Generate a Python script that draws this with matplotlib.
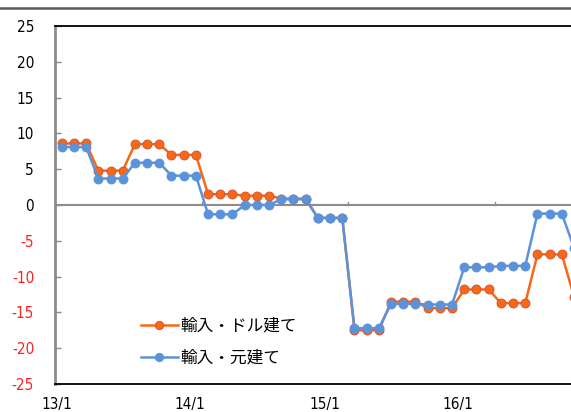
import matplotlib
matplotlib.use("Agg")
import matplotlib.pyplot as plt
from matplotlib.lines import Line2D
from matplotlib import font_manager

# Monthly year-on-year change (%), Jan 2013 onward
months = list(range(43))
usd_import = [8.6, 8.6, 8.6, 4.8, 4.8, 4.8, 8.5, 8.5, 8.5, 7.0, 7.0, 7.0,
              1.5, 1.5, 1.5, 1.3, 1.3, 1.3, 0.9, 0.9, 0.9, -1.8, -1.8, -1.8,
              -17.5, -17.5, -17.5, -13.5, -13.5, -13.5, -14.4, -14.4, -14.4,
              -11.8, -11.8, -11.8, -13.7, -13.7, -13.7, -6.9, -6.9, -6.9, -12.8]
cny_import = [8.1, 8.1, 8.1, 3.7, 3.7, 3.7, 5.9, 5.9, 5.9, 4.1, 4.1, 4.1,
              -1.3, -1.3, -1.3, 0.0, 0.0, 0.0, 0.8, 0.8, 0.8, -1.8, -1.8, -1.8,
              -17.2, -17.2, -17.2, -13.8, -13.8, -13.8, -13.9, -13.9, -13.9,
              -8.7, -8.7, -8.7, -8.5, -8.5, -8.5, -1.2, -1.2, -1.2, -6.0]
series_names = ["輸入・ドル建て", "輸入・元建て"]
x_labels = ["13/1", "14/1", "15/1", "16/1"]
x_label_pos = [-0.4, 10.5, 21.55, 32.45]
year_marks = [11.5, 23.5, 35.5]
y_ticks = [25, 20, 15, 10, 5, 0, -5, -10, -15, -20, -25]

names = {f.name for f in font_manager.fontManager.ttflist}
if "Liberation Sans Narrow" in names:
    num_font = dict(family="Liberation Sans Narrow")
else:
    num_font = dict(family="DejaVu Sans", stretch="condensed")
jp_font = ["Noto Sans CJK JP", "DejaVu Sans"]

fig = plt.figure(figsize=(5.71, 4.12), dpi=100)
W, H = 571, 412
ax = fig.add_axes([55 / W, (H - 384) / H, (W - 55) / W, (384 - 26) / H])
ax.set_xlim(-0.55, 41.75)
ax.set_ylim(-25, 25)

orange = "#FA6814"
blue = "#5B92DA"
ax.axhline(0, color="#8C8C8C", lw=1.5, zorder=1)
for m in year_marks:
    ax.plot([m, m], [0, 0.45], color="#8C8C8C", lw=1.0, zorder=1, clip_on=False)

ax.plot(months, usd_import, color=orange, lw=1.8, marker="o", ms=6.5,
        mfc=orange, mec="#C8503C", mew=0.6, label=series_names[0], zorder=3)
ax.plot(months, cny_import, color=blue, lw=1.8, marker="o", ms=6.5,
        mfc=blue, mec=blue, mew=0.6, label=series_names[1], zorder=4)

# Axis styling
ax.spines["right"].set_visible(False)
ax.spines["top"].set_color("black")
ax.spines["top"].set_linewidth(1.3)
ax.spines["bottom"].set_color("black")
ax.spines["bottom"].set_linewidth(1.3)
ax.spines["left"].set_color("#8C8C8C")
ax.spines["left"].set_linewidth(2.0)

ax.set_yticks(y_ticks)
ax.set_yticklabels([str(v) for v in y_ticks], fontsize=11, **num_font)
for lbl, v in zip(ax.get_yticklabels(), y_ticks):
    lbl.set_color("#FF2020" if v < 0 else "black")
ax.tick_params(axis="y", direction="in", length=4, width=1, color="#8C8C8C", pad=15)

ax.set_xticks(x_label_pos)
ax.set_xticklabels(x_labels, fontsize=11, **num_font)
ax.tick_params(axis="x", length=0, pad=9)

leg = ax.legend(loc="upper left", bbox_to_anchor=((126 - 55) / 516, (384 - 303) / 358),
                frameon=False, handlelength=2.2, handletextpad=0.15,
                labelspacing=0.9, prop={"family": jp_font, "size": 12})
for h in leg.legend_handles:
    h.set_markersize(6)

# Frame line above the chart
fig.add_artist(Line2D([0, 1], [(H - 8.3) / H, (H - 8.3) / H], color="#5A5A5A", lw=1.8))

fig.savefig("out.png", dpi=100)
